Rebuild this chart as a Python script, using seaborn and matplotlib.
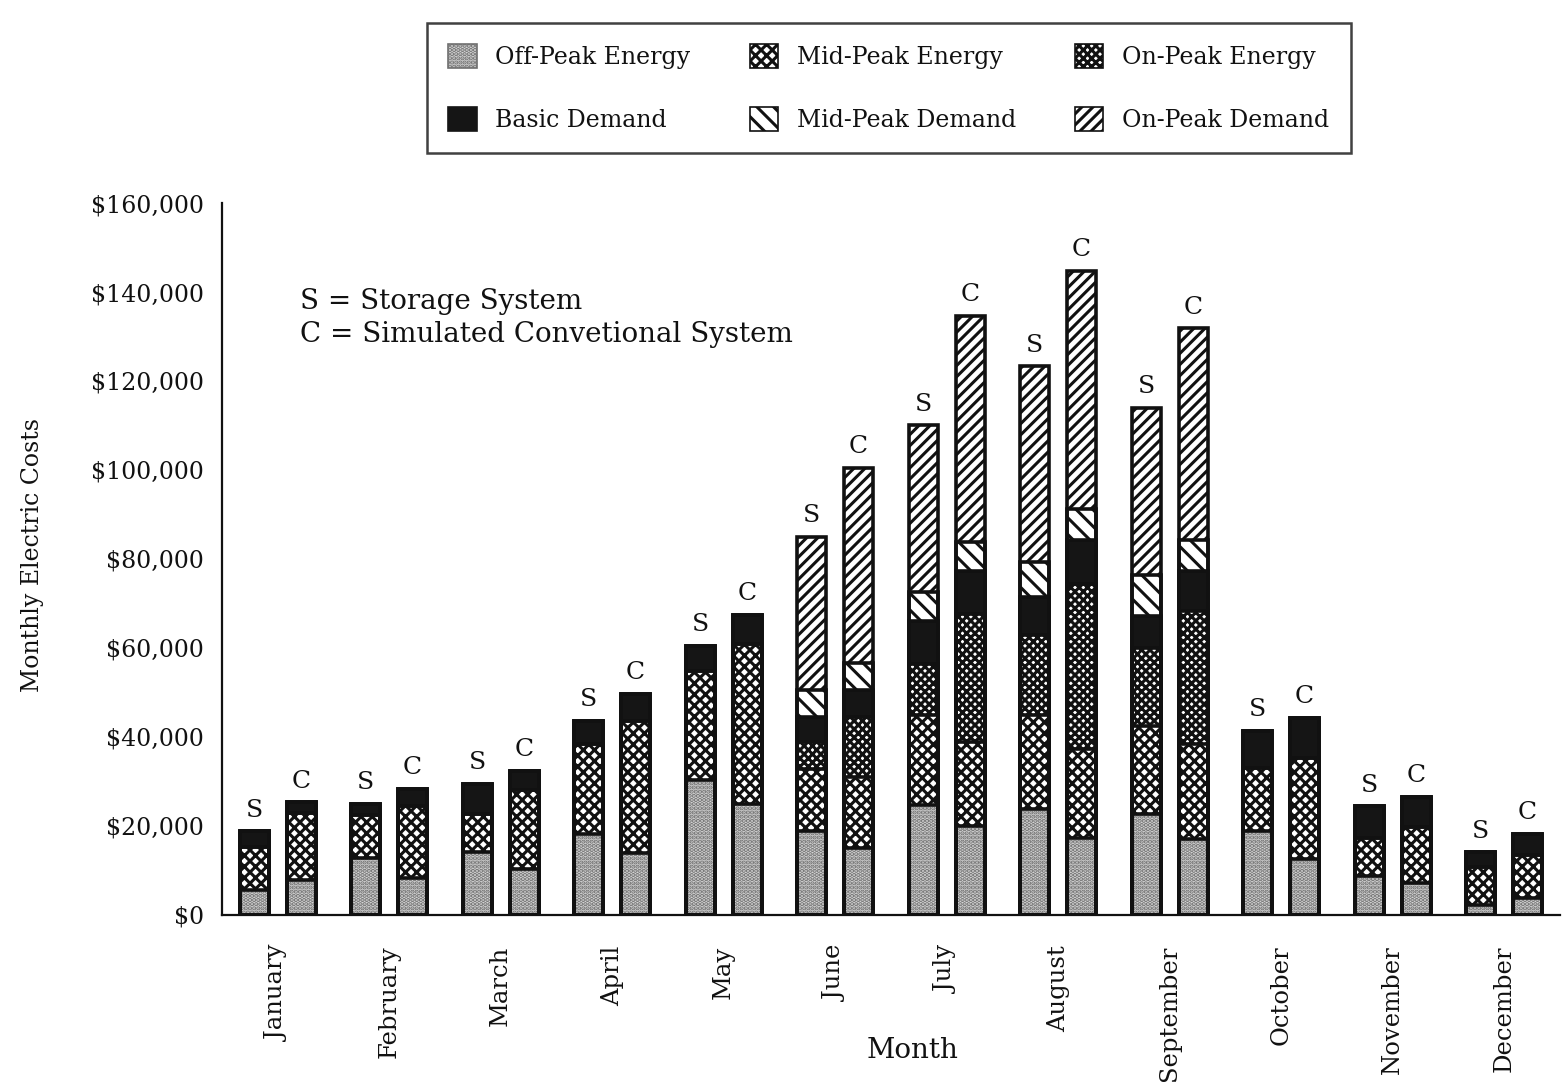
#!/usr/bin/env python3

from matplotlib import pyplot as plt
from matplotlib.patches import Patch
from matplotlib.ticker import StrMethodFormatter
import numpy as np
import pandas as pd
import seaborn as sns


months = [
        "January", "February", "March", "April", "May", "June",
        "July", "August", "September", "October", "November", "December",
        ]
systems = ["S", "C"]

# monthly cost components in dollars (S = storage, C = conventional)
off_energy_s = [5600, 12800, 14100, 18300, 30400, 18800, 24800, 23900, 22800, 18800, 8700, 2200]
off_energy_c = [7800, 8300, 10300, 13900, 25000, 15000, 20000, 17400, 17000, 12500, 7200, 3800]
mid_energy_s = [9600, 9600, 8700, 20200, 24400, 14100, 20200, 21100, 19600, 14300, 8700, 8500]
mid_energy_c = [15200, 16100, 17700, 29700, 36000, 15900, 18900, 20000, 21500, 22800, 12500, 9600]
on_energy_s = [0, 0, 0, 0, 0, 6000, 11300, 17900, 17600, 0, 0, 0]
on_energy_c = [0, 0, 0, 0, 0, 13600, 28700, 36900, 29800, 0, 0, 0]
basic_demand_s = [3600, 2600, 6700, 5100, 5600, 5600, 9800, 8500, 7300, 8300, 7000, 3400]
basic_demand_c = [2300, 4000, 4400, 6100, 6500, 6100, 9800, 10000, 9100, 9000, 6900, 4900]
mid_demand_s = [0, 0, 0, 0, 0, 6100, 6400, 8000, 9000, 0, 0, 0]
mid_demand_c = [0, 0, 0, 0, 0, 6000, 6500, 7000, 6900, 0, 0, 0]
on_demand_s = [0, 0, 0, 0, 0, 34400, 37500, 43900, 37600, 0, 0, 0]
on_demand_c = [0, 0, 0, 0, 0, 43800, 50800, 53400, 47500, 0, 0, 0]

components = [
        "Off-Peak Energy", "Mid-Peak Energy", "On-Peak Energy",
        "Basic Demand", "Mid-Peak Demand", "On-Peak Demand",
        ]
# (face, hatch colour, hatch)
styles = {
        "Off-Peak Energy": ("#d4d4d4", "#707070", "...."),
        "Mid-Peak Energy": ("white", "#111111", "xxx"),
        "On-Peak Energy": ("white", "#111111", "xxxx"),
        "Basic Demand": ("#151515", "#151515", ""),
        "Mid-Peak Demand": ("white", "#111111", "\\\\"),
        "On-Peak Demand": ("white", "#111111", "///"),
        }


def main():
    values = {
            "Off-Peak Energy": (off_energy_s, off_energy_c),
            "Mid-Peak Energy": (mid_energy_s, mid_energy_c),
            "On-Peak Energy": (on_energy_s, on_energy_c),
            "Basic Demand": (basic_demand_s, basic_demand_c),
            "Mid-Peak Demand": (mid_demand_s, mid_demand_c),
            "On-Peak Demand": (on_demand_s, on_demand_c),
            }
    rows = []
    for sys_i, sysname in enumerate(systems):
        for m_i, month in enumerate(months):
            row = {"month": month, "system": sysname}
            for comp in components:
                row[comp] = values[comp][sys_i][m_i]
            rows.append(row)
    df = pd.DataFrame(rows)
    # cumulative tops for stacking by overdrawing
    cum = df[components].cumsum(axis=1)
    for comp in components:
        df["top " + comp] = cum[comp]

    sns.set_style("white")
    plt.rcParams["font.family"] = ["DejaVu Serif"]
    plt.rcParams["hatch.linewidth"] = 2.2
    for key in ["text.color", "axes.labelcolor", "xtick.color", "ytick.color"]:
        plt.rcParams[key] = "#111111"

    fig = plt.figure(figsize=(15.62, 10.85), dpi=100)
    ax = fig.add_axes([0.1421, 0.1567, 0.8566, 0.6562])

    bar_kws = dict(
            x="month", hue="system", hue_order=systems, order=months,
            dodge=True, width=0.84, gap=0.38, legend=False, ax=ax,
            )
    first = True
    for comp in components[::-1]:
        face, hcol, hatch = styles[comp]
        sns.barplot(
                data=df, y="top " + comp, palette=[face, face],
                edgecolor=hcol, linewidth=0, hatch=hatch, **bar_kws,
                )
        if first:
            top_containers = list(ax.containers)
            first = False
    for comp in components[::-1]:
        sns.barplot(
                data=df, y="top " + comp, palette=["#111111", "#111111"],
                fill=False, linewidth=2.6, **bar_kws,
                )

    for cont, sysname in zip(top_containers, systems):
        ax.bar_label(cont, labels=[sysname] * len(months), padding=7,
                     fontsize=18)

    ax.set_xlim(-0.5, len(months) - 0.5)
    ax.set_ylim(0, 160000)
    ax.yaxis.set_major_formatter(StrMethodFormatter("${x:,.0f}"))
    ax.set_yticks(np.arange(0, 160001, 20000))
    ax.tick_params(axis="y", direction="inout", length=14, width=1.5,
                   labelsize=17, pad=6)
    ax.set_xticks(range(len(months)), months, rotation=90, fontsize=17.5)
    ax.tick_params(axis="x", which="major", length=0, pad=22)
    ax.set_xticks(np.arange(-0.5, len(months)), minor=True)
    ax.tick_params(axis="x", which="minor", direction="inout", length=30,
                   width=1.5)
    for side in ["top", "right"]:
        ax.spines[side].set_visible(False)
    for side in ["left", "bottom"]:
        ax.spines[side].set_linewidth(1.6)
        ax.spines[side].set_color("#111111")

    ax.set_xlabel("Month", fontsize=20)
    ax.xaxis.set_label_coords(0.516, -0.172)
    ax.set_ylabel("Monthly Electric Costs", fontsize=17)
    ax.yaxis.set_label_coords(-0.133, 0.506)

    ax.text(0.058, 0.88, "S = Storage System\nC = Simulated Convetional System",
            transform=ax.transAxes, fontsize=20, va="top", ha="left",
            linespacing=1.25)

    labels = ["Off-Peak Energy", "Basic Demand", "Mid-Peak Energy",
              "Mid-Peak Demand", "On-Peak Energy", "On-Peak Demand"]
    handles = [
            Patch(facecolor=styles[c][0], edgecolor=styles[c][1],
                  hatch=styles[c][2], linewidth=1.2)
            for c in labels
            ]
    leg = fig.legend(
            handles, labels, ncol=3, loc="center", bbox_to_anchor=(0.569, 0.919),
            fontsize=17, frameon=True, fancybox=False, handlelength=1.2,
            handleheight=1.2, labelspacing=1.6, columnspacing=2.5,
            borderpad=0.9, handletextpad=0.8,
            )
    leg.get_frame().set_edgecolor("#111111")
    leg.get_frame().set_linewidth(1.8)

    plt.savefig("out.png", dpi=100)


if __name__ == "__main__":
    main()
